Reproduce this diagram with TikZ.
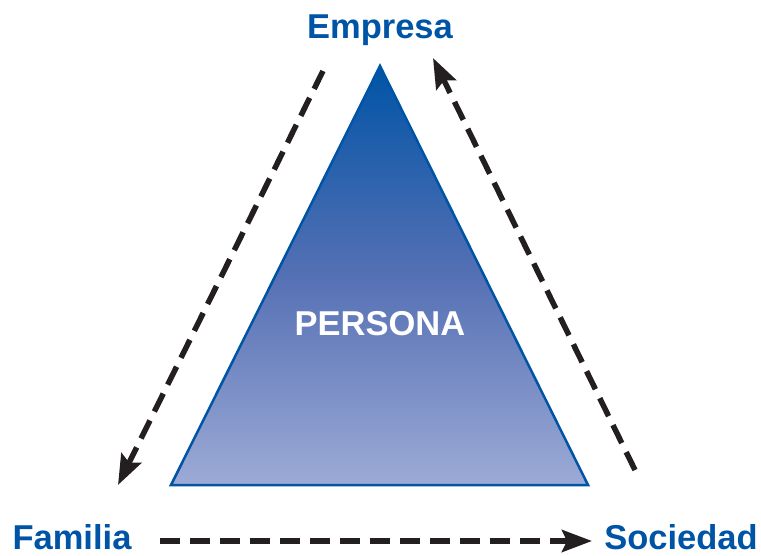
\documentclass[tikz,border=0pt]{standalone}
\usepackage{fontspec}
\setmainfont{Liberation Sans}
\usetikzlibrary{arrows.meta}
\definecolor{lblblue}{HTML}{0054A6}
\definecolor{topblue}{HTML}{0054A6}
\definecolor{midblue}{HTML}{5570B4}
\definecolor{botblue}{HTML}{9CAAD6}
\definecolor{arrblack}{HTML}{231F20}
\tikzset{
  lbl/.style={font=\fontsize{34.5}{36}\selectfont\bfseries, text=lblblue, inner sep=0pt, anchor=base},
  flow/.style={draw=arrblack, line width=5.5pt, dash pattern=on 20pt off 10pt,
    -{Stealth[length=30pt,width=22pt,inset=5pt]}},
}
\begin{document}
\begin{tikzpicture}[x=1pt,y=-1pt]
\useasboundingbox (0,0) rectangle (761,555);
\coordinate (apex) at (380,66);
\coordinate (bl) at (171,485);
\coordinate (br) at (588,485);
\shade[top color=topblue, bottom color=botblue, middle color=midblue] (apex) -- (br) -- (bl) -- cycle;
\draw[lblblue, line width=2.5pt, line join=miter] (apex) -- (br) -- (bl) -- cycle;
\node[font=\fontsize{34.5}{36}\selectfont\bfseries, text=white, inner sep=0pt, anchor=base] (persona) at (380,335) {PERSONA};
\node[lbl] (empresa) at (380,38) {Empresa};
\node[lbl] (familia) at (72,549) {Familia};
\node[lbl] (sociedad) at (681,549) {Sociedad};
\coordinate (l1) at (323,71);
\coordinate (l2) at (118,485);
\coordinate (r1) at (635,470);
\coordinate (r2) at (433,58);
\coordinate (b1) at (160,541);
\coordinate (b2) at (592,541);
\draw[flow] (l1) -- (l2);
\draw[flow] (r1) -- (r2);
\draw[flow] (b1) -- (b2);
\end{tikzpicture}
\end{document}
